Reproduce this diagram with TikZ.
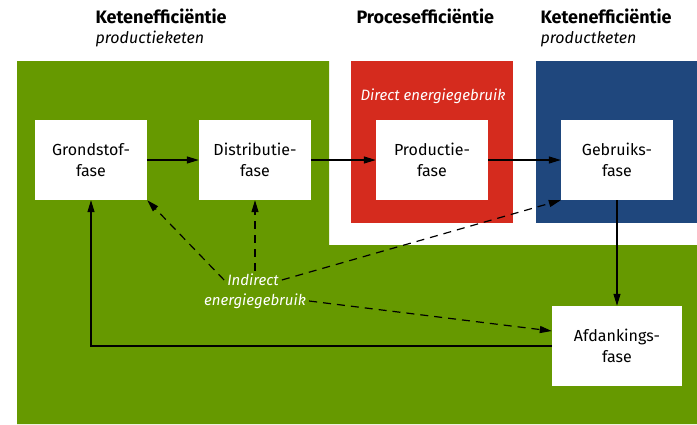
\documentclass[tikz,border=0pt]{standalone}
\usepackage{fontspec}
\setmainfont{Fira Sans}
\usetikzlibrary{arrows.meta,positioning}
\definecolor{keten}{RGB}{102,153,0}
\definecolor{proces}{RGB}{213,43,30}
\definecolor{gebruik}{RGB}{31,71,125}

\begin{document}
\begin{tikzpicture}[x=1pt,y=-1pt,fase/.style={fill=white,align=center,minimum width=112pt,minimum height=80pt,inner sep=0pt,font=\fontsize{16}{21}\selectfont},kop/.style={anchor=base west,font=\fontsize{18}{21}\selectfont\bfseries},sub/.style={anchor=base west,font=\fontsize{16}{19}\selectfont\itshape},lbl/.style={text=white,inner sep=3pt,font=\fontsize{15}{18}\selectfont\itshape},flow/.style={-{Triangle[length=12pt,width=7pt]},line width=1.2pt},dflow/.style={flow,dash pattern=on 8pt off 6pt}]
\useasboundingbox (0,0) rectangle (697,424);
% vlakken
\fill[keten] (17,61)--(329,61)--(329,245)--(697,245)--(697,424)--(17,424)--cycle;
\fill[proces] (351,61) rectangle (513,223);
\fill[gebruik] (536,61) rectangle (697,223);
% koppen
\node[kop] (k1) at (92,23) {Ketenefficiëntie};
\node[sub] (s1) at (92,43) {productieketen};
\node[kop] (k2) at (353,23) {Procesefficiëntie};
\node[kop] (k3) at (537,23) {Ketenefficiëntie};
\node[sub] (s3) at (537,43) {productketen};
\node[lbl,anchor=base] (direct) at (433,100) {Direct energiegebruik};
% fasen
\node[fase] (grond) at (91,160) {Grondstof-\\fase};
\node[fase] (distr) at (255,160) {Distributie-\\fase};
\node[fase] (prod) at (432,160) {Productie-\\fase};
\node[fase] (gebr) at (617,160) {Gebruiks-\\fase};
\node[fase,minimum width=130pt] (afd) at (617,346) {Afdankings-\\fase};
\node[lbl] (ind1) at (253,280) {Indirect};
\node[lbl] (ind2) at (255,301) {energiegebruik};
\draw[flow] (grond)--(distr);\draw[flow] (distr)--(prod);\draw[flow] (prod)--(gebr);
\draw[flow] (gebr)--(afd);
\draw[flow] (afd.west)-|(grond.south);
\draw[dflow] (ind1.west)--(grond.south east);
\draw[dflow] (distr.south|-ind1.north)--(distr.south);
\draw[dflow] (ind1.east)--(gebr.south west);
\draw[dflow] (ind2.east)--([yshift=15pt]afd.west);
\end{tikzpicture}
\end{document}
